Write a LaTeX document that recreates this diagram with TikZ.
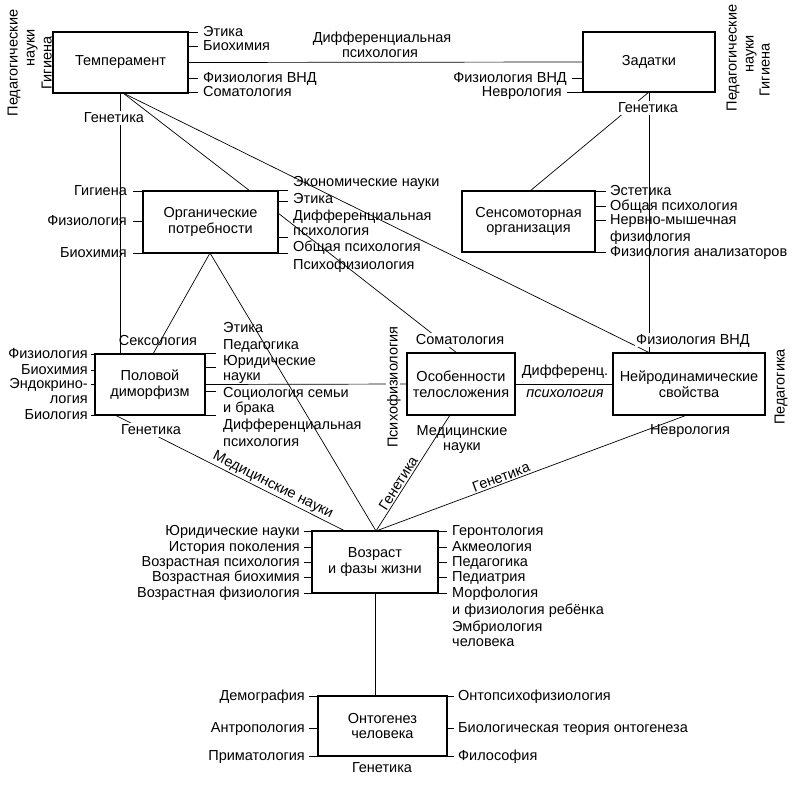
\documentclass[tikz,border=0pt]{standalone}
\usepackage{fontspec}
\setmainfont{Liberation Sans}
\usetikzlibrary{calc}
\newcommand\lblfont{\fontsize{14.5}{15.5}\selectfont}
\begin{document}
\begin{tikzpicture}[x=1pt,y=-1pt,
  box/.style={draw,line width=1.1pt,inner sep=2pt,align=center,font=\lblfont},
  lb/.style={inner sep=0pt,text height=10pt,text depth=1pt,font=\lblfont},
  wl/.style={lb,fill=white,inner sep=1.5pt},
  cn/.style={line width=0.7pt},
  tk/.style={line width=0.9pt},
  sl/.style={font=\lblfont,inner sep=1.5pt,sloped,above}]
\fill[white] (0,0) rectangle (794,784);
\useasboundingbox (0,0) rectangle (794,784);

% ---------- boxes ----------
\node[box,minimum width=135,minimum height=61] (temp) at (120.5,62.5) {Темперамент};
\node[box,minimum width=132,minimum height=60] (zad) at (649,62) {Задатки};
\node[box,minimum width=135,minimum height=62] (org) at (210.5,222) {Органические\\потребности};
\node[box,minimum width=133,minimum height=61] (sens) at (528.5,221.5) {Сенсомоторная\\организация};
\node[box,minimum width=110,minimum height=61] (pol) at (150,384.5) {Половой\\диморфизм};
\node[box,minimum width=108,minimum height=62] (osob) at (461,384) {Особенности\\телосложения};
\node[box,minimum width=152,minimum height=62] (neiro) at (689,384) {Нейродинамические\\свойства};
\node[box,minimum width=126,minimum height=62] (vozr) at (375,562) {Возраст\\и фазы жизни};
\node[box,minimum width=129,minimum height=60] (onto) at (382.5,726) {Онтогенез\\человека};

% ---------- connector end points ----------
\coordinate (tb) at (123,93);
\coordinate (orgT) at (250,191);
\coordinate (neiT) at (650,353);
\coordinate (zb) at (649,92);
\coordinate (sensT) at (530,191);
\coordinate (orgB) at (210,253);
\coordinate (polT) at (153,354);
\coordinate (vozT) at (376,531);
\coordinate (orgR) at (278,213);
\coordinate (osobT) at (457,353);
\coordinate (polB) at (115,415);
\coordinate (vozTL) at (345,531);
\coordinate (osobB) at (450,415);
\coordinate (neiB) at (687,415);

% ---------- connectors ----------
\draw[cn] (temp.east) -- (zad.west);
\draw[cn] (tb) -- (orgT);
\draw[cn] (tb) -- (neiT);
\draw[cn] (temp.south) -- (temp.south |- pol.north);
\draw[cn] (zb) -- (sensT);
\draw[cn] (zad.south) -- (zad.south |- neiro.north);
\draw[cn] (orgB) -- (polT);
\draw[cn] (orgB) -- (vozT);
\draw[cn] (orgR) -- (osobT);
\draw[cn] (pol.east) -- (osob.west);
\draw[cn] (osob.east) -- (neiro.west);
\draw[cn] (polB) -- node[sl,pos=0.67] {Медицинские науки} (vozTL);
\draw[cn] (vozT) -- node[sl,pos=0.38] {Генетика} (osobB);
\draw[cn] (vozT) -- node[sl,pos=0.41] {Генетика} (neiB);
\draw[cn] (vozr.south) -- (vozr.south |- onto.north);

% ---------- Темперамент ----------
\node[lb,anchor=west] (t1) at (203,32) {Этика};
\node[lb,anchor=west] (t2) at (203,46) {Биохимия};
\node[lb,anchor=west] (t3) at (203,78) {Физиология ВНД};
\node[lb,anchor=west] (t4) at (203,92) {Соматология};
\foreach \n in {t1,t2,t3,t4} \draw[tk] (temp.east |- \n.west) -- ([xshift=-5pt]\n.west);
\node[lb] at (382,38) {Дифференциальная};
\node[lb] at (380,53) {психология};
\node[lb,rotate=90] at (13,63) {Педагогические};
\node[lb,rotate=90] at (30,48) {науки};
\node[lb,rotate=90] at (47,63) {Гигиена};
\node[wl] at (114,118) {Генетика};

% ---------- Задатки ----------
\node[lb,anchor=east] (z1) at (567,78) {Физиология ВНД};
\node[lb,anchor=east] (z2) at (562,92) {Неврология};
\foreach \n in {z1,z2} \draw[tk] (zad.west |- \n.east) -- ([xshift=5pt]\n.east);
\node[lb,rotate=90] at (732,58) {Педагогические};
\node[lb,rotate=90] at (749,54) {науки};
\node[lb,rotate=90] at (765,70) {Гигиена};
\node[wl] at (648,108) {Генетика};

% ---------- Органические потребности ----------
\node[lb,anchor=east] (o1) at (127,191) {Гигиена};
\node[lb,anchor=east] (o2) at (127,221) {Физиология};
\node[lb,anchor=east] (o3) at (127,253) {Биохимия};
\foreach \n in {o1,o2,o3} \draw[tk] (org.west |- \n.east) -- ([xshift=6pt]\n.east);
\node[lb,anchor=west] at (293,182) {Экономические науки};
\node[lb,anchor=west] at (293,199) {Этика};
\node[lb,anchor=west] at (293,216) {Дифференциальная};
\node[lb,anchor=west] at (293,231) {психология};
\node[lb,anchor=west] at (293,247) {Общая психология};
\node[lb,anchor=west] at (293,265) {Психофизиология};
\draw[tk] (org.north east) -- ++(9,0);
\draw[tk] ($(org.north east)+(0,11)$) -- ++(9,0);
\draw[tk] ($(org.north east)+(0,47)$) -- ++(9,0);
\draw[tk] (org.south east) -- ++(9,0);

% ---------- Сенсомоторная организация ----------
\node[lb,anchor=west] (s1) at (610,191) {Эстетика};
\node[lb,anchor=west] (s2) at (610,206) {Общая психология};
\node[lb,anchor=west] (s3) at (610,220) {Нервно-мышечная};
\node[lb,anchor=west] at (610,237) {физиология};
\node[lb,anchor=west] (s5) at (610,252) {Физиология анализаторов};
\foreach \n in {s1,s2,s3,s5} \draw[tk] (sens.east |- \n.west) -- ([xshift=-4pt]\n.west);

% ---------- Половой диморфизм ----------
\node[lb,anchor=east] (p1) at (88,354) {Физиология};
\node[lb,anchor=east] (p2) at (88,370) {Биохимия};
\node[lb,anchor=east] (p3) at (88,384) {Эндокрино-};
\node[lb,anchor=east] at (88,399) {логия};
\node[lb,anchor=east] (p5) at (88,415) {Биология};
\foreach \n in {p1,p2,p3,p5} \draw[tk] (pol.west |- \n.east) -- ([xshift=3pt]\n.east);
\node[lb,anchor=west] at (223,328) {Этика};
\node[lb,anchor=west] at (223,345) {Педагогика};
\node[lb,anchor=west] at (223,361) {Юридические};
\node[lb,anchor=west] at (223,376) {науки};
\node[lb,anchor=west] at (223,393) {Социология семьи};
\node[lb,anchor=west] at (223,408) {и брака};
\node[lb,anchor=west] at (223,425) {Дифференциальная};
\node[lb,anchor=west] at (223,442) {психология};
\draw[tk] (pol.north east) -- ++(10,0);
\draw[tk] ($(pol.north east)+(0,14)$) -- ++(10,0);
\draw[tk] ($(pol.north east)+(0,38)$) -- ++(10,0);
\draw[tk] (pol.south east) -- ++(10,0);
\node[lb] at (158,341) {Сексология};
\node[wl] at (151,430) {Генетика};
\node[wl,rotate=90] at (393,387) {Психофизиология};

% ---------- Особенности / Нейродинамические ----------
\node[wl] at (460,340) {Соматология};
\node[lb] at (462,431) {Медицинские};
\node[lb] at (462,446) {науки};
\node[lb] at (565,371) {Дифференц.};
\node[lb,font=\lblfont\itshape] at (565,393) {психология};
\node[wl] at (693,340) {Физиология ВНД};
\node[lb] at (690,430) {Неврология};
\node[lb,rotate=90] at (780,387) {Педагогика};

% ---------- Возраст и фазы жизни ----------
\node[lb,anchor=east] (v1) at (300,531) {Юридические науки};
\node[lb,anchor=east] (v2) at (300,547) {История поколения};
\node[lb,anchor=east] (v3) at (300,562) {Возрастная психология};
\node[lb,anchor=east] (v4) at (300,577) {Возрастная биохимия};
\node[lb,anchor=east] (v5) at (300,593) {Возрастная физиология};
\foreach \n in {v1,v2,v3,v4,v5} \draw[tk] (vozr.west |- \n.east) -- ([xshift=4pt]\n.east);
\node[lb,anchor=west] (w1) at (452,531) {Геронтология};
\node[lb,anchor=west] (w2) at (452,547) {Акмеология};
\node[lb,anchor=west] (w3) at (452,562) {Педагогика};
\node[lb,anchor=west] (w4) at (452,577) {Педиатрия};
\node[lb,anchor=west] (w5) at (452,593) {Морфология};
\node[lb,anchor=west] at (452,610) {и физиология ребёнка};
\node[lb,anchor=west] at (452,627) {Эмбриология};
\node[lb,anchor=west] at (452,642) {человека};
\foreach \n in {w1,w2,w3,w4,w5} \draw[tk] (vozr.east |- \n.west) -- ([xshift=-5pt]\n.west);

% ---------- Онтогенез человека ----------
\node[lb,anchor=east] (n1) at (305,696) {Демография};
\node[lb,anchor=east] (n2) at (305,728) {Антропология};
\node[lb,anchor=east] (n3) at (305,756) {Приматология};
\foreach \n in {n1,n2,n3} \draw[tk] (onto.west |- \n.east) -- ([xshift=4pt]\n.east);
\node[lb,anchor=west] (m1) at (458,696) {Онтопсихофизиология};
\node[lb,anchor=west] (m2) at (458,728) {Биологическая теория онтогенеза};
\node[lb,anchor=west] (m3) at (458,756) {Философия};
\foreach \n in {m1,m2,m3} \draw[tk] (onto.east |- \n.west) -- ([xshift=-4pt]\n.west);
\node[lb] at (382,768) {Генетика};
\end{tikzpicture}
\end{document}
